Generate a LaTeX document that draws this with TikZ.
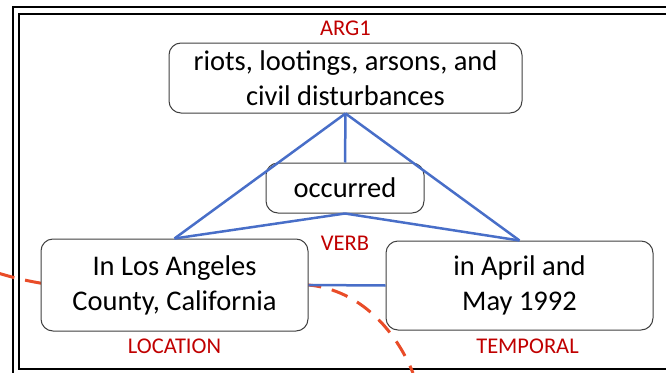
\documentclass[tikz,border=0pt]{standalone}
\usepackage{fontspec}
\setmainfont{Carlito}
\usepackage{xcolor}
\usetikzlibrary{positioning, backgrounds}
\definecolor{linkblue}{RGB}{72,110,200}
\definecolor{rolered}{RGB}{192,0,0}
\definecolor{cutred}{RGB}{233,76,40}

\begin{document}
\begin{tikzpicture}[x=1pt, y=-1pt,
    phrase/.style={rectangle, rounded corners=12pt, draw=black!75, fill=white, line width=1pt, align=center, inner sep=0pt, font=\fontsize{28.5}{35}\selectfont},
    rolelabel/.style={inner sep=3pt, text=rolered, font=\fontsize{22.5}{27}\selectfont},
    link/.style={draw=linkblue, line width=2.5pt},
    cut/.style={draw=cutred, line width=3pt, dash pattern=on 17pt off 11pt},
    borderline/.style={draw=black, line width=1.6pt}
]
    \useasboundingbox (0,0) rectangle (666,372);

    % Phrase boxes
    \node (args) [phrase, minimum width=353pt, minimum height=70pt] at (345.5,78) {riots, lootings, arsons, and\\civil disturbances};
    \node (occ) [phrase, minimum width=158pt, minimum height=50pt] at (345,188) {occurred};
    \node (locbox) [phrase, minimum width=267pt, minimum height=92pt] at (174.5,285) {In Los Angeles\\County, California};
    \node (tmpbox) [phrase, minimum width=267pt, minimum height=89pt] at (519.5,285.5) {in April and\\May 1992};

    % Role labels
    \node (arglbl) [rolelabel, above=4pt of args] {ARG1};
    \node (verblbl) [rolelabel, below=19pt of occ] {VERB};
    \node (loclbl) [rolelabel, below=4pt of locbox] {LOCATION};
    \node (tmplbl) [rolelabel, below=5pt of tmpbox, xshift=8pt] {TEMPORAL};

    % Links
    \draw [link] (args.south) -- (occ.north);
    \draw [link] (args.south) -- (locbox.north);
    \draw [link] (args.south) -- (tmpbox.north);
    \draw [link] (occ.south) -- (locbox.north);
    \draw [link] (occ.south) -- (tmpbox.north);
    \draw [link] (locbox.east) -- (tmpbox.west);

    % Frame and cut line, behind the boxes
    \begin{scope}[on background layer]
        \clip (0,0) rectangle (666,372);
        \draw [borderline] (13,7) rectangle (700,400);
        \draw [borderline] (19,14) rectangle (700,369);
        \draw [cut] (-2,273) .. controls (100,305) and (220,280) .. (locbox.east) .. controls +(52,5) and +(-17,-42) .. (413,373);
    \end{scope}
\end{tikzpicture}
\end{document}
